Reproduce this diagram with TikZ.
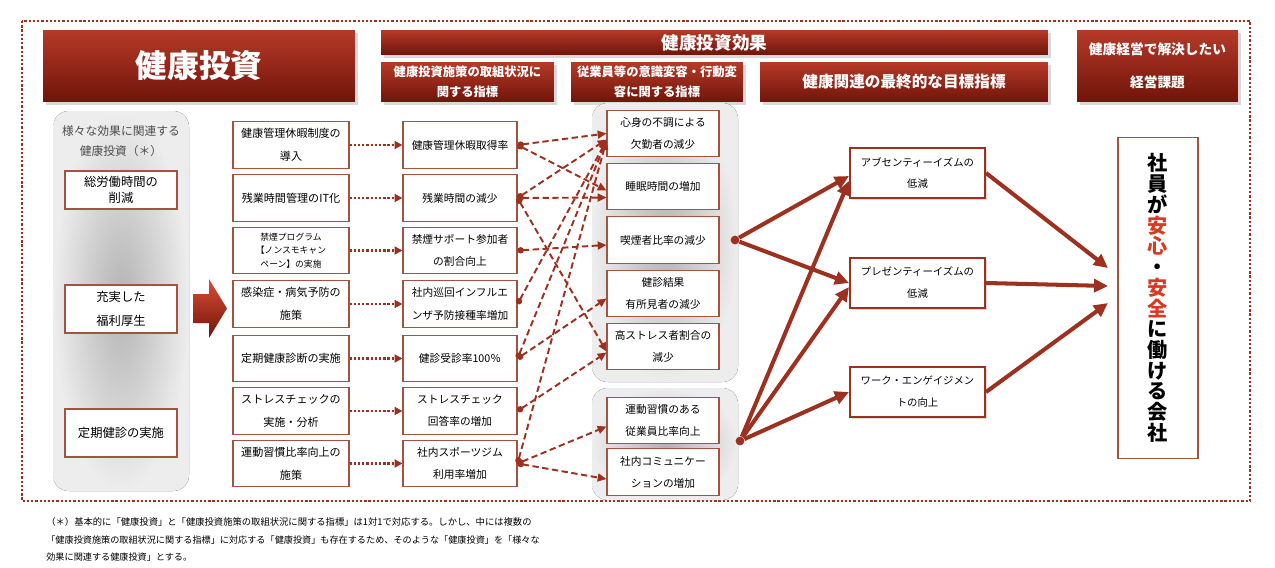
\documentclass[tikz,border=0pt]{standalone}
\usepackage{fontspec}
\setmainfont{Noto Sans CJK JP}
\usetikzlibrary{arrows.meta,calc,shadows}
\definecolor{hdtop}{RGB}{182,58,40}
\definecolor{hdbot}{RGB}{112,20,10}
\definecolor{lnred}{RGB}{158,48,32}
\definecolor{bxred}{RGB}{165,82,64}
\definecolor{txred}{RGB}{214,58,32}
\begin{document}
\begin{tikzpicture}[x=0.02cm, y=-0.02cm,
  head/.style={top color=hdtop, bottom color=hdbot, text=white, align=center, inner sep=0pt,
    drop shadow={opacity=0.3, shadow xshift=1.5pt, shadow yshift=-1.5pt}},
  box/.style={draw=bxred, line width=0.6pt, fill=white, align=center, inner sep=0pt},
  meas/.style={box, minimum width=2.32cm, minimum height=0.93cm, font=\fontsize{6.3}{13}\selectfont},
  kpi/.style={box, minimum width=2.28cm, minimum height=0.93cm, font=\fontsize{6.1}{12.6}\selectfont},
  chg/.style={box, minimum width=2.24cm, minimum height=0.93cm, font=\fontsize{6.1}{12.6}\selectfont},
  fin/.style={box, minimum width=2.7cm, minimum height=1.0cm, font=\fontsize{5.9}{12.5}\selectfont,
    line width=1.2pt, draw=lnred, drop shadow={opacity=0.3, shadow xshift=1.2pt, shadow yshift=-1.2pt}},
  grp/.style={box, minimum width=2.24cm, minimum height=0.96cm, font=\fontsize{7}{13.7}\selectfont},
  graybox/.style={rounded corners=9pt, draw=none, inner color=gray!60, outer color=gray!14},
  dotarrow/.style={lnred, line width=1.3pt, dash pattern=on 1.3pt off 1.1pt, -{Triangle[length=4.5pt, width=4.5pt]}},
  dasharrow/.style={lnred, line width=1.1pt, dash pattern=on 3.6pt off 2pt, {Circle[length=3.6pt]}-{Triangle[length=5pt, width=4.5pt]}},
  bigarrow/.style={lnred, line width=2.3pt, -{Triangle[length=8pt, width=7.5pt]}},
  dot/.style={circle, fill=lnred, inner sep=0pt, minimum size=5pt}]
\useasboundingbox (0,0) rectangle (1275,568);
\draw[lnred, line width=1.3pt, dash pattern=on 1.3pt off 1.1pt] (22,21) rectangle (1250,501);
%
\node[head, minimum width=6.24cm, minimum height=1.44cm, font=\fontsize{18}{20}\selectfont\bfseries] (hd inv) at (199,66) {健康投資};
\node[head, minimum width=13.34cm, minimum height=0.5cm, font=\fontsize{10}{12}\selectfont\bfseries] (hd eff) at (714.5,42.5) {健康投資効果};
\node[head, minimum width=3.46cm, minimum height=0.8cm, font=\fontsize{7}{11.4}\selectfont\bfseries] (hd kpi) at (467.5,82) {健康投資施策の取組状況に\\関する指標};
\node[head, minimum width=3.44cm, minimum height=0.8cm, font=\fontsize{7}{11.4}\selectfont\bfseries] (hd chg) at (657,82) {従業員等の意識変容・行動変\\容に関する指標};
\node[head, minimum width=5.76cm, minimum height=0.8cm, font=\fontsize{8.9}{11}\selectfont\bfseries] (hd fin) at (904,82) {健康関連の最終的な目標指標};
\node[head, minimum width=3.22cm, minimum height=1.44cm, font=\fontsize{7.8}{19}\selectfont\bfseries] (hd iss) at (1157.5,66) {健康経営で解決したい\\経営課題};
%
\fill[graybox] (53,111) rectangle (189,491);
\node[align=center, text=black!70, font=\fontsize{6.7}{11.4}\selectfont] (grp title) at (121,141) {様々な効果に関連する\\健康投資（＊）};
\node[grp, minimum height=0.76cm, font=\fontsize{7}{8.8}\selectfont] (grp1) at (121,190) {総労働時間の\\削減};
\node[grp] (grp2) at (121,309) {充実した\\福利厚生};
\node[grp] (grp3) at (121,433) {定期健診の実施};
%
\shade[top color=txred!90!white, bottom color=hdbot] (193,294) -- (209,294) -- (209,279) -- (227,308.5) -- (209,338) -- (209,323) -- (193,323) -- cycle;
%
\node[meas] (m1) at (291,145) {健康管理休暇制度の\\導入};
\node[meas] (m2) at (291,198) {残業時間管理のIT化};
\node[meas, font=\fontsize{5}{7.7}\selectfont] (m3) at (291,250.5) {禁煙プログラム\\【ノンスモキャン\\ペーン】の実施};
\node[meas] (m4) at (291,304) {感染症・病気予防の\\施策};
\node[meas] (m5) at (291,358.5) {定期健康診断の実施};
\node[meas] (m6) at (291,411) {ストレスチェックの\\実施・分析};
\node[meas] (m7) at (291,463.5) {運動習慣比率向上の\\施策};
%
\node[kpi] (k1) at (460,145) {健康管理休暇取得率};
\node[kpi] (k2) at (460,198) {残業時間の減少};
\node[kpi] (k3) at (460,250.5) {禁煙サポート参加者\\の割合向上};
\node[kpi] (k4) at (460,304) {社内巡回インフルエ\\ンザ予防接種率増加};
\node[kpi] (k5) at (460,358.5) {健診受診率100％};
\node[kpi] (k6) at (460,411) {ストレスチェック\\回答率の増加};
\node[kpi] (k7) at (460,463.5) {社内スポーツジム\\利用率増加};
%
\draw[dotarrow] (m1) -- (k1);
\draw[dotarrow] (m2) -- (k2);
\draw[dotarrow] (m3) -- (k3);
\draw[dotarrow] (m4) -- (k4);
\draw[dotarrow] (m5) -- (k5);
\draw[dotarrow] (m6) -- (k6);
\draw[dotarrow] (m7) -- (k7);
%
\fill[graybox] (592,103) rectangle (738,382);
\fill[graybox] (592,388) rectangle (738,500);
\node[chg] (c1) at (663,133.5) {心身の不調による\\欠勤者の減少};
\node[chg] (c2) at (663,186.5) {睡眠時間の増加};
\node[chg] (c3) at (663,240) {喫煙者比率の減少};
\node[chg] (c4) at (663,293.5) {健診結果\\有所見者の減少};
\node[chg] (c5) at (663,346.5) {高ストレス者割合の\\減少};
\node[chg] (c6) at (663,420.5) {運動習慣のある\\従業員比率向上};
\node[chg] (c7) at (663,472) {社内コミュニケー\\ションの増加};
%
\draw[dasharrow] (k1.east) -- (c1.west);
\draw[dasharrow] (k1.east) -- ($(c2.west)+(0,4)$);
\draw[dasharrow] (k2.east) -- ($(c1.west)+(0,6)$);
\draw[dasharrow] (k2.east) -- ($(c2.west)+(0,11)$);
\draw[dasharrow] (k2.east) -- ($(c5.west)+(0,5)$);
\draw[dasharrow] (k3.east) -- ($(c3.west)+(0,5)$);
\draw[dasharrow] (k4.east) -- ($(c1.west)+(0,7)$);
\draw[dasharrow] (k5.east) -- ($(c1.west)+(0,7)$);
\draw[dasharrow] (k5.east) -- ($(c4.west)+(0,5)$);
\draw[dasharrow] (k6.east) -- ($(c5.west)+(0,6)$);
\draw[dasharrow] (k7.east) -- ($(c1.west)+(0,7)$);
\draw[dasharrow] (k7.east) -- ($(c6.west)+(0,6)$);
\draw[dasharrow] (k7.east) -- ($(c7.west)+(0,7)$);
%
\node[fin] (g1) at (917.5,173) {アブセンティーイズムの\\低減};
\node[fin] (g2) at (917.5,283) {プレゼンティーイズムの\\低減};
\node[fin] (g3) at (917.5,392) {ワーク・エンゲイジメン\\トの向上};
\node[dot] (da) at (735,240) {};
\node[dot] (db) at (740,441) {};
%
\draw[bigarrow] (da) -- ($(g1.west)+(0,3)$);
\draw[bigarrow] (da) -- (g2.west);
\draw[bigarrow] (db) -- ($(g1.west)+(0,8)$);
\draw[bigarrow] (db) -- ($(g2.west)+(0,4)$);
\draw[bigarrow] (db) -- (g3.west);
%
\node[box, minimum width=1.6cm, minimum height=6.42cm, font=\fontsize{11.5}{11.8}\selectfont\bfseries] (goal) at (1158,298)
  {社\\員\\が\\\textcolor{txred}{安}\\\textcolor{txred}{心}\\・\\\textcolor{txred}{安}\\\textcolor{txred}{全}\\に\\働\\け\\る\\会\\社};
\coordinate (t1) at (1108,268);
\coordinate (t2) at (1108,286);
\coordinate (t3) at (1108,303);
\draw[bigarrow] (g1.east) -- (t1);
\draw[bigarrow] (g2.east) -- (t2);
\draw[bigarrow] (g3.east) -- (t3);
%
\node[anchor=west, inner sep=0pt, font=\fontsize{5.3}{6}\selectfont] (note1) at (46,522) {（＊）基本的に「健康投資」と「健康投資施策の取組状況に関する指標」は1対1で対応する。しかし、中には複数の};
\node[anchor=west, inner sep=0pt, font=\fontsize{5.2}{6}\selectfont] (note2) at (46,540) {「健康投資施策の取組状況に関する指標」に対応する「健康投資」も存在するため、そのような「健康投資」を「様々な};
\node[anchor=west, inner sep=0pt, font=\fontsize{5.2}{6}\selectfont] (note3) at (46,557) {効果に関連する健康投資」とする。};
\end{tikzpicture}
\end{document}
